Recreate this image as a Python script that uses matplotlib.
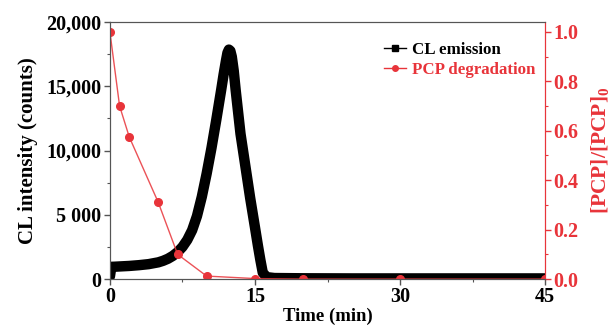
import numpy as np
import matplotlib
matplotlib.use('Agg')
import matplotlib.pyplot as plt
from matplotlib.lines import Line2D
from matplotlib.ticker import MultipleLocator

plt.rcParams['font.family'] = 'Liberation Serif'
plt.rcParams['font.weight'] = 'bold'
plt.rcParams['mathtext.fontset'] = 'custom'
plt.rcParams['mathtext.rm'] = 'Liberation Serif:bold'
plt.rcParams['mathtext.bf'] = 'Liberation Serif:bold'

# CL emission (min, counts)
cl_time = [0, 0.15, 0.5, 1, 2, 3, 4, 5, 5.5, 6, 6.5, 7, 7.5, 8, 8.5, 9, 9.5,
           10, 10.5, 11, 11.5, 11.75, 12, 12.15, 12.3, 12.45, 12.6, 12.8, 13,
           13.5, 14, 14.5, 15, 15.3, 15.55, 15.8, 16.2, 17, 20, 25, 30, 35, 40, 45]
cl_counts = [200, 950, 960, 980, 1020, 1080, 1160, 1300, 1420, 1580, 1800, 2100,
             2500, 3050, 3800, 4900, 6400, 8200, 10200, 12400, 14700, 15900,
             17000, 17600, 17850, 17750, 17300, 16200, 14700, 11300, 8800, 6300,
             4000, 2600, 1500, 500, 150, 80, 60, 50, 50, 50, 50, 50]

# PCP degradation (min, [PCP]/[PCP]0)
pcp_time = [0, 1, 2, 5, 7, 10, 15, 20, 30, 45]
pcp_ratio = [1.0, 0.70, 0.575, 0.31, 0.10, 0.012, 0.002, 0.0, 0.0, 0.0]

x_ticks = [0, 15, 30, 45]
left_ticks = [0, 5000, 10000, 15000, 20000]
left_ticklabels = ['0', '5 000', '10,000', '15,000', '20,000']
right_ticks = [0.0, 0.2, 0.4, 0.6, 0.8, 1.0]

red = '#e8343a'
gray = '#555555'

fig = plt.figure(figsize=(6.14, 3.33), dpi=100)
ax = fig.add_axes([0.179, 0.162, 0.709, 0.772])
ax2 = ax.twinx()

ax.plot(cl_time, cl_counts, color='black', lw=7.5, solid_capstyle='round',
        solid_joinstyle='round')
ax2.plot(pcp_time, pcp_ratio, color=red, lw=1, alpha=0.85)
ax2.plot(pcp_time, pcp_ratio, 'o', color=red, ms=5.5, mec=red)

ax.set_xlim(0, 45)
ax.set_ylim(0, 20000)
ax2.set_ylim(0, 1.04)

ax.set_xticks(x_ticks)
ax.xaxis.set_minor_locator(MultipleLocator(7.5))
ax.set_yticks(left_ticks)
ax.set_yticklabels(left_ticklabels)
ax.yaxis.set_minor_locator(MultipleLocator(2500))
ax2.set_yticks(right_ticks)
ax2.set_yticklabels(['%.1f' % v for v in right_ticks])
ax2.yaxis.set_minor_locator(MultipleLocator(0.1))

ax.tick_params(axis='both', which='major', direction='out', length=4,
               width=1, color=gray, labelsize=14.5, pad=2)
ax.tick_params(axis='both', which='minor', direction='out', length=2.5,
               width=0.8, color=gray)
ax2.tick_params(axis='y', which='major', direction='out', length=4, width=1,
                color=red, labelcolor=red, labelsize=14.5, pad=2)
ax2.tick_params(axis='y', which='minor', direction='out', length=2.5,
                width=0.8, color=red)

for s in ['left', 'top', 'bottom']:
    ax.spines[s].set_color(gray)
    ax2.spines[s].set_color(gray)
ax2.spines['right'].set_color(red)
ax.spines['right'].set_color(red)

ax.set_xlabel('Time (min)', fontsize=13.5, fontweight='bold', labelpad=0)
ax.set_ylabel('CL intensity (counts)', fontsize=15, fontweight='bold', labelpad=6)
ax2.set_ylabel('[PCP]/[PCP]$_0$', fontsize=15.5, fontweight='bold', color=red,
               labelpad=8)

handles = [Line2D([], [], color='black', lw=1, marker='s', ms=4),
           Line2D([], [], color=red, lw=1, marker='o', ms=4)]
leg = ax2.legend(handles, ['CL emission', 'PCP degradation'], loc='upper right',
                 frameon=False, fontsize=12.2, handlelength=1.3, handletextpad=0.3,
                 borderaxespad=0.2, labelspacing=0.2,
                 bbox_to_anchor=(1.0, 0.96))
leg.get_texts()[1].set_color(red)

fig.savefig('out.png', dpi=100)
